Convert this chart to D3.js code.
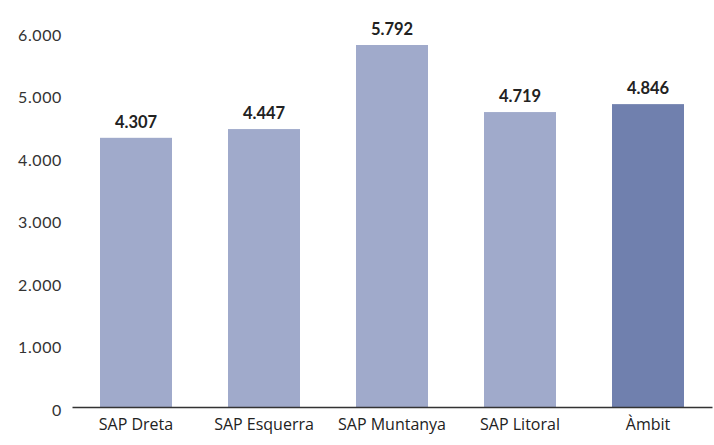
<!DOCTYPE html>
<html>
<head>
<meta charset="utf-8">
<script src="https://cdn.jsdelivr.net/npm/d3@7"></script>
<style>
  body { margin: 0; background: #fff; }
</style>
</head>
<body>
<div id="canvas"></div>
<script>
"use strict"

// data
let categories = ["SAP Dreta", "SAP Esquerra", "SAP Muntanya", "SAP Litoral", "Àmbit"];
let values = [4307, 4447, 5792, 4719, 4846];
let tickValues = [0, 1000, 2000, 3000, 4000, 5000, 6000];
let tickLabels = ["0", "1.000", "2.000", "3.000", "4.000", "5.000", "6.000"];
let valueLabels = ["4.307", "4.447", "5.792", "4.719", "4.846"];

let drawing = d3.select("#canvas")
    .append("svg")
    .attr("width", 714)
    .attr("height", 445);

let x = d3.scaleBand()
    .domain(categories)
    .range([72, 712])
    .paddingInner(0.4375)
    .paddingOuter(0.21875);

let y = d3.scaleLinear()
    .domain([0, 6000])
    .range([407, 32]);

/* bars */
drawing.selectAll("rect.bar")
    .data(values)
    .enter()
    .append("rect")
    .attr("class", "bar")
    .attr("x", (d, i) => x(categories[i]))
    .attr("y", d => y(d))
    .attr("width", x.bandwidth())
    .attr("height", d => y(0) - y(d))
    .attr("fill", (d, i) => categories[i] == "Àmbit" ? "#7080ae" : "#a0aacb");

/* value labels */
drawing.selectAll("text.val")
    .data(values)
    .enter()
    .append("text")
    .attr("class", "val")
    .attr("x", (d, i) => x(categories[i]) + x.bandwidth() / 2)
    .attr("y", d => y(d) - 10)
    .attr("text-anchor", "middle")
    .attr("font-family", "Lato, sans-serif")
    .attr("font-weight", "bold")
    .attr("font-size", 16.5)
    .attr("fill", "#222")
    .text((d, i) => valueLabels[i]);

/* y axis: labels only */
let yAxis = drawing.append("g")
    .attr("transform", "translate(62,3)")
    .call(d3.axisLeft(y)
        .tickValues(tickValues)
        .tickFormat((d, i) => tickLabels[i])
        .tickSize(0)
        .tickPadding(0));
yAxis.select(".domain").remove();
yAxis.selectAll("text")
    .attr("font-family", "Lato, sans-serif")
    .attr("font-size", 16)
    .attr("letter-spacing", 0.6)
    .attr("fill", "#333");

/* x axis */
let xAxis = drawing.append("g")
    .attr("transform", "translate(0,407)")
    .call(d3.axisBottom(x).tickSize(0).tickPadding(12));
xAxis.select(".domain")
    .attr("stroke", "#333")
    .attr("stroke-width", 1.5);
xAxis.selectAll("text")
    .attr("font-family", "'Open Sans', sans-serif")
    .attr("font-size", 16)
    .attr("fill", "#222");
</script>
</body>
</html>
